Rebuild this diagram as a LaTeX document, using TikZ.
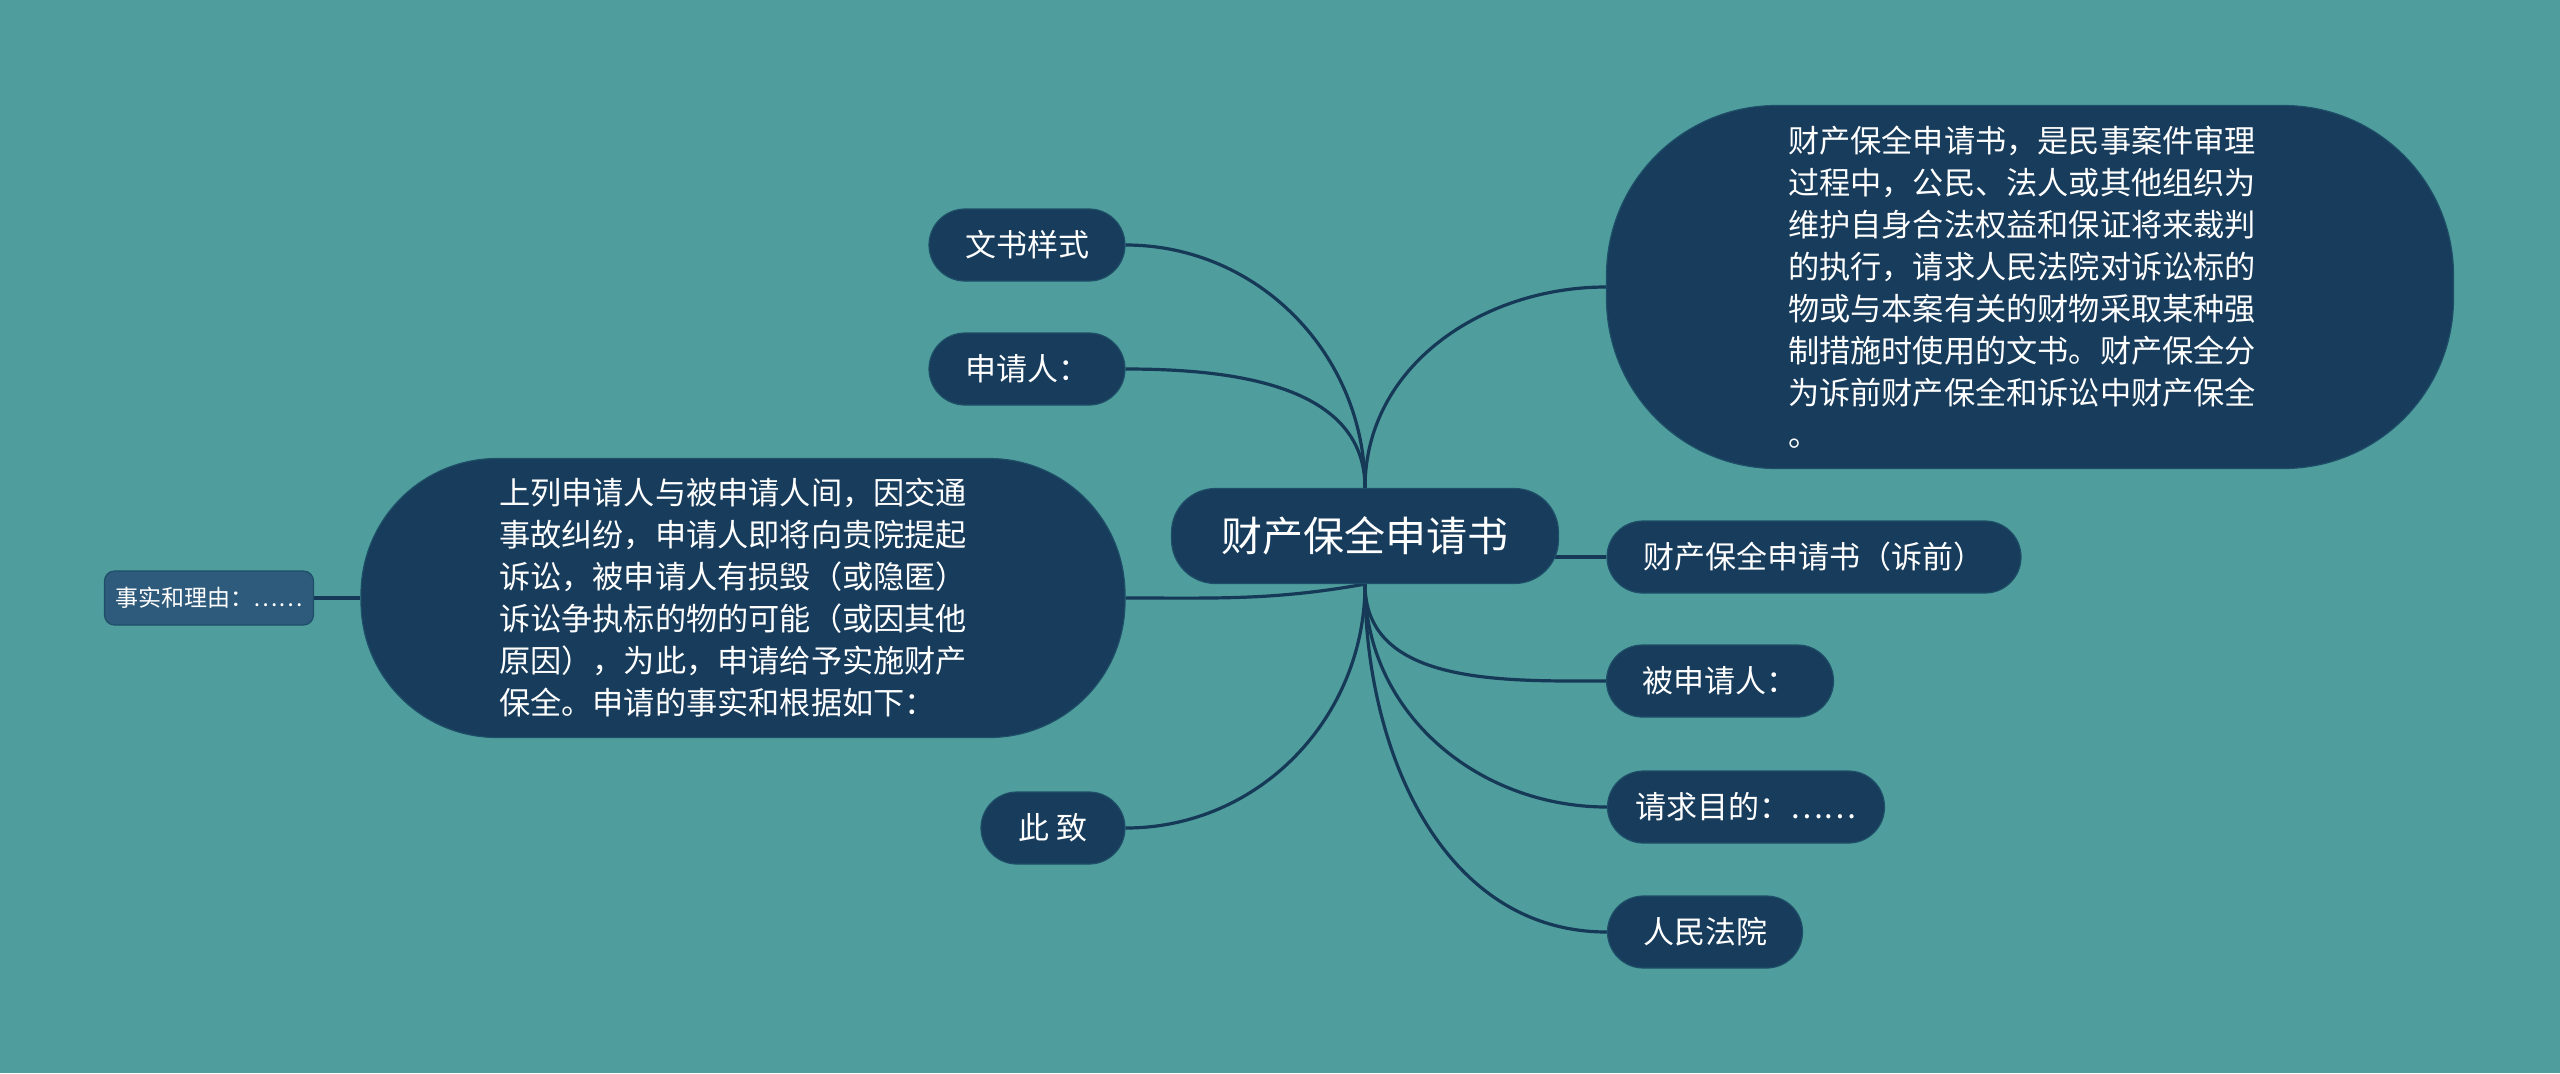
\documentclass[tikz,border=0pt]{standalone}
\usepackage{fontspec}
\newfontfamily\cjk{Noto Sans CJK SC}
\usetikzlibrary{backgrounds}
\definecolor{bgc}{RGB}{79,157,157}
\definecolor{nodec}{RGB}{23,60,92}
\definecolor{edgec}{RGB}{30,78,104}
\definecolor{linec}{RGB}{21,57,87}
\definecolor{smallc}{RGB}{46,90,124}
\begin{document}
\begin{tikzpicture}[x=0.5pt,y=-0.5pt,
  box/.style={fill=nodec, draw=edgec, line width=0.6pt, text=white, inner sep=0pt, align=center},
  leaf/.style={box, minimum height=36pt, rounded corners=18pt, font=\cjk\fontsize{15.5pt}{21pt}\selectfont},
  big/.style={box, align=left, font=\cjk\fontsize{15.6pt}{21pt}\selectfont},
  conn/.style={draw=linec, line width=1.6pt}]
\useasboundingbox (0,0) rectangle (2560,1073);

\node[box, minimum width=193.5pt, minimum height=47.5pt, rounded corners=22pt,
      font=\cjk\fontsize{20.5pt}{24pt}\selectfont] (c) at (1365,536) {财产保全申请书};

\node[big, text width=242pt, minimum width=423.5pt, minimum height=181.5pt, rounded corners=85pt] (r) at (2030,287)
 {财产保全申请书，是民事案件审理\\过程中，公民、法人或其他组织为\\维护自身合法权益和保证将来裁判\\的执行，请求人民法院对诉讼标的\\物或与本案有关的财物采取某种强\\制措施时使用的文书。财产保全分\\为诉前财产保全和诉讼中财产保全\\。};

\node[big, text width=244pt, minimum width=382pt, minimum height=139.5pt, rounded corners=68pt] (l) at (743,598)
 {上列申请人与被申请人间，因交通\\事故纠纷，申请人即将向贵院提起\\诉讼，被申请人有损毁（或隐匿）\\诉讼争执标的物的可能（或因其他\\原因），为此，申请给予实施财产\\保全。申请的事实和根据如下：};

\node[leaf, minimum width=98pt] (wssh) at (1027,245) {文书样式};
\node[leaf, minimum width=98pt] (sqr) at (1027,369) {申请人：};
\node[leaf, minimum width=72pt] (cz) at (1053,828) {此\ 致};
\node[leaf, minimum width=207pt] (sq) at (1814,557) {财产保全申请书（诉前）};
\node[leaf, minimum width=113.5pt] (bsqr) at (1720,681) {被申请人：};
\node[leaf, minimum width=138.5pt] (qqmd) at (1746,807) {请求目的：……};
\node[leaf, minimum width=97.5pt] (rmfy) at (1705,932) {人民法院};
\node[box, fill=smallc, minimum width=104.5pt, minimum height=27pt, rounded corners=5pt,
      font=\cjk\fontsize{11.5pt}{14pt}\selectfont] (ss) at (209,598) {事实和理由：……};

\begin{scope}[on background layer]
\fill[bgc] (0,0) rectangle (2560,1073);
\draw[conn] (c.north) to[out=90,in=0] (wssh.east);
\draw[conn] (c.north) to[out=90,in=0] (sqr.east);
\draw[conn] (c.north) to[out=90,in=180] (r.west);
\draw[conn] (c.center |- sq.west) -- (sq.west);
\draw[conn] (c.south) to[out=-90,in=180] (bsqr.west);
\draw[conn] (c.south) to[out=-90,in=180] (qqmd.west);
\draw[conn] (c.south) to[out=-90,in=180] (rmfy.west);
\draw[conn] (c.south) to[out=-90,in=0] (cz.east);
\draw[conn] (c.south) to[out=190,in=0] (l.east);
\draw[conn] (l.west) -- (ss.east);
\end{scope}
\end{tikzpicture}
\end{document}
